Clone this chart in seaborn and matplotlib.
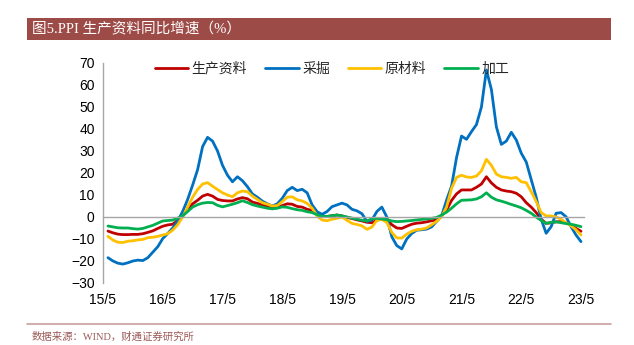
import numpy as np
import pandas as pd
import matplotlib
matplotlib.use("Agg")
import matplotlib.pyplot as plt
from matplotlib.patches import Rectangle
from matplotlib.lines import Line2D
import seaborn as sns

# ---------------- data (monthly, 2015-06 .. 2023-05) ----------------
tick_labels = ["15/5", "16/5", "17/5", "18/5", "19/5", "20/5", "21/5", "22/5", "23/5"]
series_names = ["生产资料", "采掘", "原材料", "加工"]

producer = [-6.4, -7.2, -7.8, -8.0, -8.0, -7.9, -7.9, -7.6, -7.0, -6.3, -5.2, -4.2,
            -3.6, -3.3, -1.5, 0.5, 3.5, 6.0, 7.6, 9.5, 10.3, 9.5, 8.0, 7.5,
            7.3, 7.3, 8.2, 8.8, 8.3, 6.8, 6.2, 5.4, 4.8, 4.3, 4.2, 5.2,
            6.0, 5.8, 4.8, 4.5, 3.5, 3.0, 1.2, 0.2, 0.2, 0.6, 0.9, 0.5,
            -0.2, -0.7, -1.3, -1.8, -2.4, -2.6, -1.5, -0.6, -1.1, -3.5, -5.0, -5.2,
            -4.2, -3.3, -2.8, -2.6, -2.2, -1.7, -1.4, 0.5, 3.2, 7.5, 10.5, 12.3,
            12.3, 12.3, 13.5, 15.0, 18.3, 15.5, 13.5, 12.3, 11.8, 11.5, 10.8, 9.2,
            6.5, 4.5, 2.0, -1.0, -2.9, -2.6, -2.2, -2.1, -2.7, -3.5, -5.2, -6.5]

mining = [-18.5, -20.0, -21.0, -21.4, -20.8, -20.0, -19.6, -19.8, -18.5, -16.0, -13.5, -9.8,
          -7.5, -5.0, -1.8, 2.5, 8.0, 14.5, 21.5, 32.0, 36.2, 34.5, 30.0, 23.5,
          19.0, 16.0, 18.3, 16.5, 13.8, 10.5, 9.0, 7.2, 6.0, 5.0, 6.0, 8.5,
          12.0, 13.5, 12.0, 12.6, 11.0, 5.5, 2.4, 1.2, 2.5, 4.7, 5.5, 6.3,
          5.5, 3.5, 2.8, 1.5, -2.0, -1.4, 2.5, 4.5, 0.0, -9.0, -13.0, -14.5,
          -10.0, -7.5, -6.0, -5.8, -5.5, -4.5, -2.0, 0.5, 7.7, 14.0, 27.0, 36.8,
          35.3, 38.8, 42.0, 50.0, 66.8, 58.0, 41.0, 33.0, 34.5, 38.5, 35.0, 29.0,
          25.0, 17.0, 9.0, -1.0, -7.4, -4.4, 1.7, 2.0, 0.1, -4.4, -8.2, -11.2]

raw = [-8.8, -10.5, -11.5, -11.6, -11.0, -10.8, -10.4, -10.2, -9.4, -9.2, -8.8, -8.2,
       -7.6, -6.0, -3.5, 0.0, 4.5, 9.0, 12.5, 15.0, 15.6, 14.0, 12.5, 11.0,
       10.0, 9.2, 11.0, 11.8, 11.5, 9.5, 8.0, 6.5, 5.8, 5.0, 5.2, 7.0,
       9.0, 9.2, 7.8, 7.3, 6.2, 4.0, 0.5, -1.4, -1.7, -1.0, -0.6, 0.0,
       -1.5, -2.9, -3.4, -4.0, -5.6, -4.6, -1.5, -1.1, -2.5, -7.0, -9.5, -9.6,
       -7.8, -6.5, -5.8, -5.5, -5.0, -3.5, -2.0, 0.2, 4.5, 13.0, 18.0, 19.0,
       18.2, 18.0, 18.6, 21.0, 26.2, 23.5, 19.5, 18.3, 18.0, 17.6, 18.0, 16.0,
       15.6, 11.5, 7.0, 2.0, 0.5, 0.5, 0.0, -1.0, -2.6, -4.0, -5.8, -8.2]

processing = [-4.1, -4.5, -4.9, -5.0, -5.0, -5.3, -5.5, -5.2, -4.5, -3.8, -2.8, -1.8,
              -1.6, -1.4, -0.5, 0.5, 2.5, 4.5, 5.6, 6.3, 6.6, 6.5, 5.3, 4.6,
              5.2, 5.8, 6.5, 7.4, 6.6, 5.6, 5.0, 4.5, 4.0, 3.7, 4.0, 4.6,
              4.4, 3.8, 3.3, 3.0, 2.4, 2.0, 1.0, 0.3, 0.3, 0.6, 0.9, 0.5,
              0.0, -0.5, -1.0, -1.5, -1.8, -0.8, -0.6, -0.9, -1.2, -1.8, -2.1, -2.0,
              -1.8, -1.6, -1.3, -1.1, -0.9, -0.6, -0.2, 0.9, 2.2, 4.0, 6.0, 7.6,
              7.7, 7.8, 8.2, 9.2, 11.0, 9.0, 7.8, 7.2, 6.5, 5.7, 5.0, 4.2,
              3.0, 1.7, 0.0, -1.6, -2.9, -2.4, -2.2, -2.6, -3.0, -3.3, -3.8, -4.4]

months = list(range(1, len(producer) + 1))   # month index, 0 = 2015-05
tick_pos = list(range(0, 97, 12))

colors = ["#C00000", "#0070C0", "#FFC000", "#00B050"]

df = pd.concat([
    pd.DataFrame({"m": months, "v": vals, "s": name})
    for name, vals in zip(series_names, [producer, mining, raw, processing])
], ignore_index=True)

# ---------------- figure ----------------
sns.set_style("white")
plt.rcParams["font.family"] = ["Liberation Sans", "Noto Sans CJK SC", "DejaVu Sans"]

fig = plt.figure(figsize=(6.34, 3.45), dpi=100)
ax = fig.add_axes([103 / 634, 62 / 345, (584 - 103) / 634, 220 / 345])

sns.lineplot(data=df, x="m", y="v", hue="s", hue_order=series_names,
             palette=colors, linewidth=2.0, legend=False, ax=ax)

ax.set_xlim(0, 96.6)
ax.set_ylim(-30, 70)
ax.set_yticks(range(-30, 71, 10))
ax.set_xticks(tick_pos)
ax.set_xticklabels(tick_labels)
ax.set_xlabel("")
ax.set_ylabel("")

spine_c = "#A6A6A6"
for s in ["top", "right"]:
    ax.spines[s].set_visible(False)
ax.spines["left"].set_color(spine_c)
ax.spines["left"].set_linewidth(1.0)
ax.spines["bottom"].set_color(spine_c)
ax.spines["bottom"].set_linewidth(1.0)
ax.spines["bottom"].set_position(("data", 0))

ax.tick_params(axis="y", direction="out", length=3, width=1, color=spine_c,
               labelsize=10, pad=3, labelcolor="black")
ax.tick_params(axis="x", direction="out", length=3, width=1, color=spine_c,
               labelsize=10, pad=52, labelcolor="black")

# legend
handles = [Line2D([0], [0], color=c, lw=2.0) for c in colors]
ax.legend(handles, series_names, loc="center", bbox_to_anchor=(0.476, 0.975),
          ncol=4, frameon=False, handlelength=2.4, handletextpad=0.25,
          columnspacing=1.3, prop={"family": ["Noto Sans CJK SC"], "size": 10})

# title bar
fig.patches.append(Rectangle((27 / 634, 1 - 40 / 345), (611 - 27) / 634, 22 / 345,
                             transform=fig.transFigure, facecolor="#9C4B47",
                             edgecolor="none", zorder=0))
fig.text(32 / 634, 1 - 29.5 / 345, "图5.PPI 生产资料同比增速（%）", color="white",
         fontsize=10.5, va="center", ha="left",
         family=["Liberation Serif", "Noto Sans CJK SC", "DejaVu Sans"])

# bottom rule and source
fig.add_artist(Line2D([27 / 634, 611 / 634], [1 - 324 / 345, 1 - 324 / 345],
                      transform=fig.transFigure, color="#C9A09E", lw=1.2))
fig.text(32 / 634, 1 - 337 / 345, "数据来源：WIND，财通证券研究所", color="#9C5A57",
         fontsize=7.5, va="center", ha="left",
         family=["Liberation Serif", "Noto Sans CJK SC", "DejaVu Sans"])

fig.savefig("out.png", dpi=100)
